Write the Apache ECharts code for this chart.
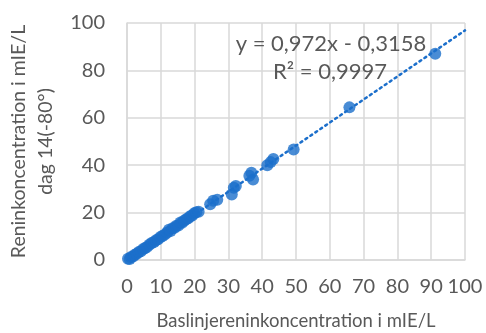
<!DOCTYPE html>
<html>
<head>
<meta charset="utf-8">
<script src="https://cdn.jsdelivr.net/npm/echarts@6/dist/echarts.min.js"></script>
<style>html,body{margin:0;padding:0;background:#fff}#c{width:486px;height:333px}</style>
</head>
<body>
<div id="c"></div>
<script>
// Baseline renin (x) vs. renin day 14 at -80° (y), mIE/L
var baselineX = [0.3,0.8,1.2,1.8,2.3,2.9,3.5,4.1,4.8,5.4,6.0,6.7,7.3,8.0,8.6,9.2,9.9,10.5,11.2,11.9,12.4,12.9,13.5,14.1,14.6,15.2,15.8,16.3,16.9,17.5,18.1,18.7,19.3,19.9,20.5,21.2,24.6,25.5,26.7,31.0,31.6,32.2,36.2,36.8,37.3,41.5,42.5,43.3,49.3,65.8,91.2];
var day14Y    = [0.5,0.4,1.3,1.5,2.2,2.6,3.4,3.7,4.6,5.1,5.6,6.5,7.2,7.6,8.3,8.8,9.7,10.1,10.8,11.6,12.8,12.2,13.4,13.6,14.5,14.6,15.8,15.7,16.6,17.2,17.6,18.5,18.8,19.7,20.2,20.4,23.5,25.0,25.4,27.6,30.5,31.2,35.5,36.8,34.0,40.0,41.3,42.6,46.6,64.4,87.0];
// Linear trendline endpoints (as shown: y = 0,972x - 0,3158)
var trendX = [0, 100];
var trendY = [-0.32, 96.88];
var xTicks = [0,10,20,30,40,50,60,70,80,90,100];
var yTicks = [0,20,40,60,80,100];
var equationText = 'y = 0,972x - 0,3158';
var r2Text = 'R\u00b2 = 0,9997';
var xTitle = 'Baslinjereninkoncentration i mIE/L';
var yTitle = 'Reninkoncentration i mIE/L\ndag 14(-80\u00b0)';

var pts = baselineX.map(function(x,i){return [x, day14Y[i]];});
var trend = trendX.map(function(x,i){return [x, trendY[i]];});
var blue = '#1c6fcb';
var grey = '#595959';
var font = 'Lato';

var chart = echarts.init(document.getElementById('c'));
chart.setOption({
  animation:false,
  backgroundColor:'#fff',
  grid:{left:127,right:21,top:23,bottom:73,containLabel:false,outerBoundsMode:'none'},
  xAxis:{
    type:'value',min:xTicks[0],max:xTicks[xTicks.length-1],interval:10,
    name:xTitle,nameLocation:'middle',nameGap:52,
    nameTextStyle:{color:grey,fontFamily:font,fontSize:18.5},
    axisLine:{lineStyle:{color:'#d9d9d9',width:1.5}},
    axisTick:{show:false},
    axisLabel:{color:grey,fontFamily:font,fontSize:20,margin:17},
    splitLine:{show:true,lineStyle:{color:'#d9d9d9',width:1.5}}
  },
  yAxis:{
    type:'value',min:yTicks[0],max:yTicks[yTicks.length-1],interval:20,
    name:yTitle,nameLocation:'middle',nameGap:66,nameRotate:90,
    nameTextStyle:{color:grey,fontFamily:font,fontSize:19.5,lineHeight:27,align:'center'},
    axisLine:{show:true,lineStyle:{color:'#d9d9d9',width:1.5}},
    axisTick:{show:false},
    axisLabel:{color:grey,fontFamily:font,fontSize:20,margin:22},
    splitLine:{show:true,lineStyle:{color:'#d9d9d9',width:1.5}}
  },
  series:[
    {type:'line',data:trend,showSymbol:false,silent:true,clip:true,
     lineStyle:{color:blue,width:2.5,type:[2,4],cap:'round'},z:1},
    {type:'scatter',data:pts,symbolSize:12,itemStyle:{color:blue},z:2}
  ],
  graphic:[
    {type:'text',x:331,y:44,z:10,style:{text:equationText,fill:grey,font:'22px Lato',align:'center',verticalAlign:'middle'}},
    {type:'text',x:330,y:72,z:10,style:{text:r2Text,fill:grey,font:'22px Lato',align:'center',verticalAlign:'middle'}}
  ]
});
</script>
</body>
</html>
